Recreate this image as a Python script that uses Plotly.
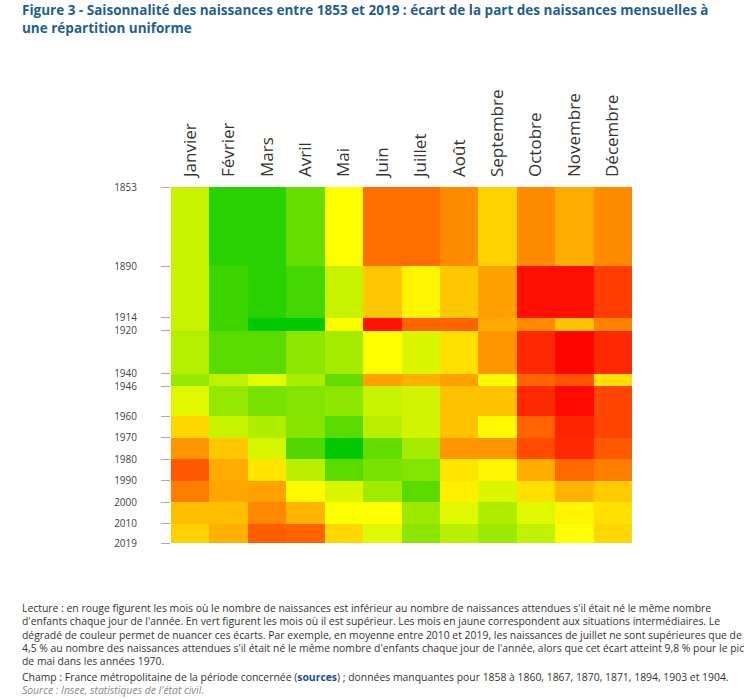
import plotly.graph_objects as go

months = ["Janvier", "Février", "Mars", "Avril", "Mai", "Juin", "Juillet",
          "Août", "Septembre", "Octobre", "Novembre", "Décembre"]
period_edges = [1853, 1890, 1914, 1920, 1940, 1946, 1960, 1970, 1980, 1990, 2000, 2010, 2019]

# écart (en %) de la part des naissances mensuelles à une répartition uniforme
p1853_1890 = [2.2, 8.4, 8.4, 6.0, 0.0, -5.7, -5.7, -4.5, -1.8, -4.5, -3.3, -4.5]
p1890_1914 = [2.2, 7.6, 8.4, 7.3, 2.2, -2.2, -0.4, -2.2, -3.7, -9.4, -9.4, -7.6]
p1914_1920 = [2.2, 7.6, 9.9, 9.9, 0.1, -9.2, -6.1, -6.1, -3.3, -4.5, -2.4, -4.9]
p1920_1940 = [2.9, 6.5, 6.5, 4.5, 3.5, 0.0, 1.4, -1.2, -4.1, -8.4, -9.8, -8.4]
p1940_1946 = [4.1, 2.5, 1.0, 3.3, 6.1, -3.7, -3.1, -3.7, -0.2, -6.1, -6.7, -1.2]
p1946_1960 = [1.2, 4.1, 5.3, 4.9, 4.5, 2.2, 1.8, -2.4, -2.4, -8.4, -9.6, -7.3]
p1960_1970 = [-1.6, 2.2, 3.1, 4.7, 6.5, 2.7, 1.8, -2.4, -0.2, -6.1, -8.6, -7.3]
p1970_1980 = [-4.1, -2.2, 1.6, 6.9, 9.8, 6.1, 3.5, -4.1, -4.1, -7.1, -8.4, -6.5]
p1980_1990 = [-6.5, -3.3, -1.0, 2.7, 6.5, 5.3, 4.9, -1.0, -0.4, -3.3, -5.9, -5.1]
p1990_2000 = [-5.1, -3.5, -3.7, -0.2, 1.4, 3.7, 6.5, -0.6, 1.4, -1.2, -2.9, -2.0]
p2000_2010 = [-2.5, -2.5, -4.7, -2.9, 0.0, 0.0, 3.9, 1.2, 3.1, 1.2, -0.4, -1.2]
p2010_2019 = [-1.8, -3.1, -6.3, -6.1, -1.6, 1.2, 4.5, 2.7, 3.9, 2.5, 0.0, -1.6]

z = [p1853_1890, p1890_1914, p1914_1920, p1920_1940, p1940_1946, p1946_1960,
     p1960_1970, p1970_1980, p1980_1990, p1990_2000, p2000_2010, p2010_2019]

title_text = ("<b>Figure 3 - Saisonnalité des naissances entre 1853 et 2019 : écart de la part des naissances mensuelles à"
              "<br>une répartition uniforme</b>")
note_lines = [
    "Lecture : en rouge figurent les mois où le nombre de naissances est inférieur au nombre de naissances attendues s'il était né le même nombre",
    "d'enfants chaque jour de l'année. En vert figurent les mois où il est supérieur. Les mois en jaune correspondent aux situations intermédiaires. Le",
    "dégradé de couleur permet de nuancer ces écarts. Par exemple, en moyenne entre 2010 et 2019, les naissances de juillet ne sont supérieures que de",
    "4,5 % au nombre des naissances attendues s'il était né le même nombre d'enfants chaque jour de l'année, alors que cet écart atteint 9,8 % pour le pic",
    "de mai dans les années 1970.",
]
champ_line = ("Champ : France métropolitaine de la période concernée (<b><span style='color:#1f4e8c'>sources</span></b>) ; "
              "données manquantes pour 1858 à 1860, 1867, 1870, 1871, 1894, 1903 et 1904.")
source_line = "<i>Source : Insee, statistiques de l'état civil.</i>"

fig = go.Figure(go.Heatmap(
    z=z, x=months, y=period_edges,
    colorscale=[[0, "#ff0000"], [0.5, "#ffff00"], [1, "#00c800"]],
    zmin=-10, zmax=10, showscale=False,
    hovertemplate="%{x}<br>%{z:.1f} %<extra></extra>",
))

W, H = 750, 699
ml, mr, mt, mb = 171, 118, 187, 156
fig.update_layout(
    width=W, height=H,
    margin=dict(l=ml, r=mr, t=mt, b=mb),
    paper_bgcolor="white", plot_bgcolor="white",
    font=dict(family="Open Sans", color="#333333"),
    xaxis=dict(side="top", tickangle=-90, tickfont=dict(size=17, color="#333333"),
               showgrid=False, zeroline=False, ticks="", ticklabelstandoff=9,
               range=[-0.5, 11.5]),
    yaxis=dict(range=[2019, 1853], tickvals=period_edges, ticktext=[str(v) for v in period_edges],
               tickfont=dict(size=10, color="#444444"), ticks="outside", ticklen=9,
               tickcolor="#aaaaaa", tickwidth=1, showgrid=False, zeroline=False,
               ticklabelstandoff=22),
)

annotations = [dict(text=title_text, x=20 / W, y=1 - (-1) / H, align="left",
                    xref="paper", yref="paper", xanchor="left", yanchor="top",
                    showarrow=False, font=dict(size=13.5, color="#1f5f8f", family="Open Sans"))]
for i, t in enumerate(note_lines):
    annotations.append(dict(text=t, x=20 / W, y=1 - (599 + 13.3 * i) / H,
                            xref="paper", yref="paper", xanchor="left", yanchor="top",
                            showarrow=False, font=dict(size=10.4, color="#333333", family="Open Sans")))
annotations.append(dict(text=champ_line, x=20 / W, y=1 - 668 / H,
                        xref="paper", yref="paper", xanchor="left", yanchor="top",
                        showarrow=False, font=dict(size=10.4, color="#333333", family="Open Sans")))
annotations.append(dict(text=source_line, x=20 / W, y=1 - 681 / H,
                        xref="paper", yref="paper", xanchor="left", yanchor="top",
                        showarrow=False, font=dict(size=10.4, color="#888888", family="Open Sans")))

# convert figure-pixel positions into plot-area paper coordinates
pw, ph = W - ml - mr, H - mt - mb
for a in annotations:
    px = a["x"] * W
    py = (1 - a["y"]) * H
    a["x"] = (px - ml) / pw
    a["y"] = 1 - (py - mt) / ph
fig.update_layout(annotations=annotations)

fig.write_html("out.html", config={"displayModeBar": False},
               post_script="document.body.style.margin='0px';")
